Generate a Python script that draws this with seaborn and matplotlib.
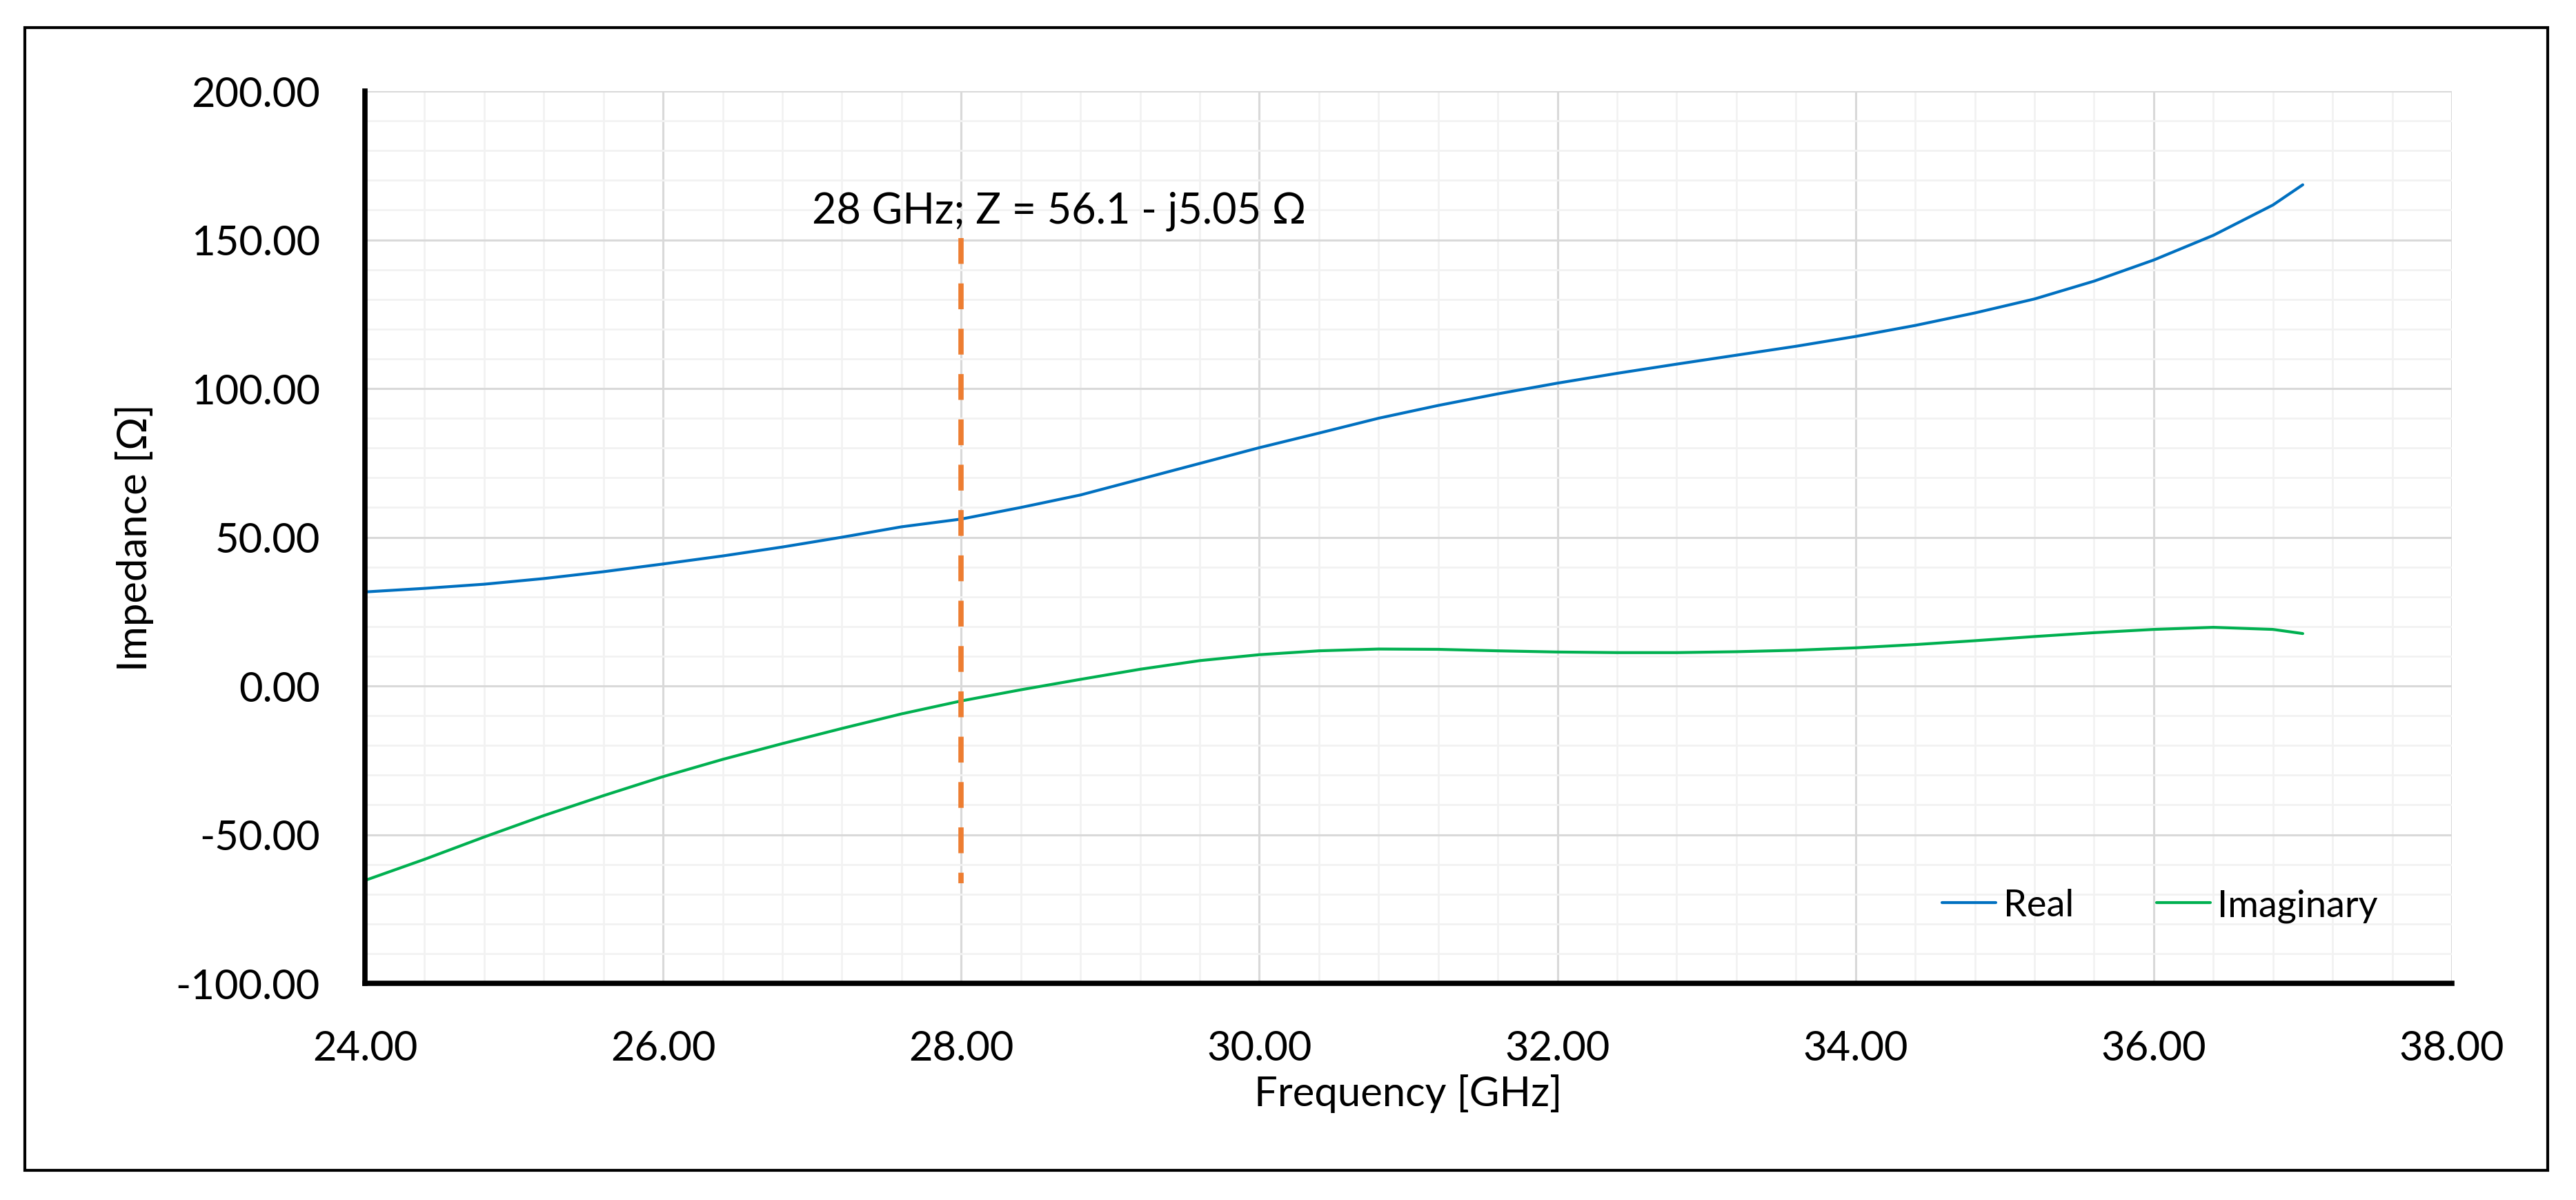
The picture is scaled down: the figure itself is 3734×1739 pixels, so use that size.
import numpy as np
import pandas as pd
import seaborn as sns
import matplotlib
matplotlib.use("Agg")
import matplotlib.pyplot as plt
from matplotlib.ticker import MultipleLocator, FormatStrFormatter
from matplotlib.patches import Rectangle

# ---------------- data ----------------
freq_ghz = [24.0, 24.4, 24.8, 25.2, 25.6, 26.0, 26.4, 26.8, 27.2, 27.6,
            28.0, 28.4, 28.8, 29.2, 29.6, 30.0, 30.4, 30.8, 31.2, 31.6,
            32.0, 32.4, 32.8, 33.2, 33.6, 34.0, 34.4, 34.8, 35.2, 35.6,
            36.0, 36.4, 36.8, 37.0]
real_ohm = [31.6, 32.8, 34.2, 36.1, 38.4, 41.0, 43.7, 46.7, 50.0, 53.5,
            56.1, 60.0, 64.2, 69.5, 74.8, 80.1, 85.0, 90.0, 94.3, 98.2,
            101.8, 105.1, 108.2, 111.2, 114.2, 117.5, 121.2, 125.4, 130.1, 136.1,
            143.2, 151.5, 161.7, 168.5]
imag_ohm = [-65.4, -58.3, -50.8, -43.6, -36.9, -30.5, -24.7, -19.4, -14.3, -9.4,
            -5.05, -1.3, 2.2, 5.6, 8.5, 10.5, 11.8, 12.4, 12.3, 11.8,
            11.4, 11.2, 11.2, 11.5, 12.0, 12.8, 13.9, 15.2, 16.6, 17.9,
            19.0, 19.7, 19.0, 17.6]
series_names = ["Real", "Imaginary"]
marker_freq = [28.0, 28.0]
marker_range = [150.5, -66.4]
annotation = "28 GHz; Z = 56.1 - j5.05 \u03a9"
x_label = "Frequency [GHz]"
y_label = "Impedance [\u03a9]"

df = pd.DataFrame({
    "Frequency": freq_ghz * 2,
    "Impedance": real_ohm + imag_ohm,
    "Series": [series_names[0]] * len(freq_ghz) + [series_names[1]] * len(freq_ghz),
})

# ---------------- style ----------------
sns.set_theme(style="white")
plt.rcParams["font.family"] = ["Lato", "DejaVu Sans"]
plt.rcParams["text.color"] = "black"

W, H = 3734, 1740
fig = plt.figure(figsize=(W / 100, H / 100), dpi=100)
fig.patch.set_facecolor("white")

L, R, T, B = 529, 3554, 133, 1426
ax = fig.add_axes([L / W, (H - B) / H, (R - L) / W, (B - T) / H])

palette = {"Real": "#0070C0", "Imaginary": "#00B050"}
sns.lineplot(data=df, x="Frequency", y="Impedance", hue="Series",
             palette=palette, linewidth=3.0, ax=ax, sort=False, legend=True)

ax.plot(marker_freq, marker_range, color="#ED7D31", linewidth=5.5,
        linestyle=(0, (4.9, 3.7)), solid_capstyle="butt", dash_capstyle="butt",
        zorder=5)

ax.text(27.0, 155.7, annotation, ha="left", va="baseline", fontsize=44, color="black")

ax.set_xlim(24, 38)
ax.set_ylim(-100, 200)
ax.xaxis.set_major_locator(MultipleLocator(2))
ax.xaxis.set_minor_locator(MultipleLocator(0.4))
ax.yaxis.set_major_locator(MultipleLocator(50))
ax.yaxis.set_minor_locator(MultipleLocator(10))
ax.xaxis.set_major_formatter(FormatStrFormatter("%.2f"))
ax.yaxis.set_major_formatter(FormatStrFormatter("%.2f"))

ax.grid(which="major", color="#d9d9d9", linewidth=2.2)
ax.grid(which="minor", color="#f2f2f2", linewidth=2.0)
ax.set_axisbelow(True)

for s in ["top", "right"]:
    ax.spines[s].set_visible(False)
for s in ["left", "bottom"]:
    ax.spines[s].set_color("black")
    ax.spines[s].set_linewidth(5.5)
    ax.spines[s].set_zorder(6)

ax.tick_params(axis="both", which="both", length=0, labelsize=43, colors="black")
ax.tick_params(axis="y", pad=47)
ax.tick_params(axis="x", pad=48)

ax.set_xlabel(x_label, fontsize=43, color="black", va="center")
ax.set_ylabel(y_label, fontsize=43, color="black", va="center")
ax.xaxis.set_label_coords(0.5, -(1585 - B) / (B - T))
ax.yaxis.set_label_coords(-(L - 195) / (R - L), 0.5)

leg = ax.legend(loc="center", bbox_to_anchor=(0.8602, 0.0874), ncol=2,
                frameon=False, fontsize=39, handlelength=1.44,
                handletextpad=0.2, columnspacing=2.2)
for line in leg.get_lines():
    line.set_linewidth(3.0)

fig.add_artist(Rectangle((36 / W, (H - 1697) / H), (3693 - 36) / W, (1697 - 41) / H,
                         transform=fig.transFigure, fill=False,
                         edgecolor="black", linewidth=3.0))

fig.savefig("out.png", dpi=100, facecolor="white")
